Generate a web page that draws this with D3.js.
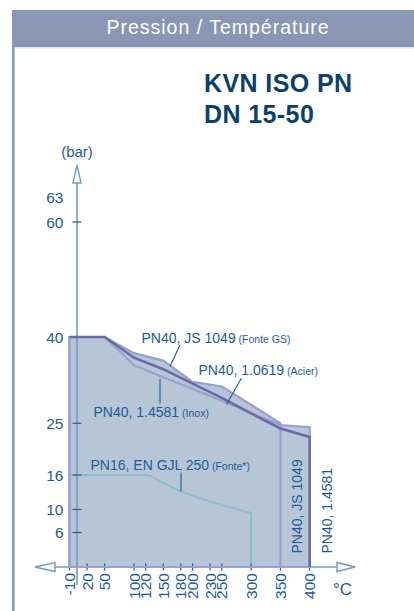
<!DOCTYPE html>
<html>
<head>
<meta charset="utf-8">
<script src="https://cdn.jsdelivr.net/npm/d3@7"></script>
<style>
  html, body { margin: 0; padding: 0; background: #fff; }
  svg { display: block; font-family: "Liberation Sans", Arial, sans-serif; }
</style>
</head>
<body>
<div id="chart"></div>
<script>
// Temperature ticks (°C) and pressure ticks (bar)
const tempTicks = [-10, 20, 50, 100, 120, 150, 180, 200, 230, 250, 300, 350, 400];
const barTicks = [6, 10, 16, 25, 40, 60];
const barLabels = [6, 10, 16, 25, 40, 60, 63];

// PN40, JS 1049 (Fonte GS)
const js1049Temp = [-10, 50, 100, 150, 200, 250, 350];
const js1049Bar = [40, 40, 37.2, 35.9, 32.2, 31.4, 25.0];

// PN40, 1.4581 (Inox)
const inoxTemp = [-10, 50, 100, 150, 200, 250, 300, 350, 400];
const inoxBar = [40, 40, 35.1, 33.0, 31.0, 28.9, 26.8, 24.7, 24.3];

// PN40, 1.0619 (Acier)
const acierTemp = [-10, 50, 100, 150, 200, 250, 300, 350, 400];
const acierBar = [40, 40, 36.4, 34.4, 31.9, 29.4, 26.7, 24.1, 22.6];

// PN16, EN GJL 250 (Fonte*)
const pn16Temp = [-10, 120, 150, 180, 300];
const pn16Bar = [16, 16, 14.6, 13.2, 9.4];

const width = 414, height = 611;
const fillColor = "#b6c6d7";
const lightLine = "#9c9ecd";
const darkLine = "#6a6aaa";
const pn16Line = "#8fbbd0";
const axisColor = "#6f9bc9";
const textBlue = "#1d5c99";

const svg = d3.select("#chart").append("svg")
    .attr("width", width)
    .attr("height", height);

// Header band
svg.append("rect").attr("x", 12).attr("y", 10).attr("width", width - 12).attr("height", 37).attr("fill", "#8b96b4");
svg.append("line").attr("x1", 12).attr("x2", width).attr("y1", 47.8).attr("y2", 47.8)
    .attr("stroke", "#dfe2ef").attr("stroke-width", 1.5);
svg.append("rect").attr("x", 12).attr("y", 47).attr("width", 2.6).attr("height", height - 47).attr("fill", "#8e95bd");
svg.append("text")
    .attr("x", 218).attr("y", 33.5)
    .attr("text-anchor", "middle")
    .attr("fill", "#fff")
    .attr("font-size", 19.5)
    .attr("letter-spacing", 1)
    .text("Pression / Température");

// Title
const title = svg.append("text")
    .attr("fill", "#0a3f6e")
    .attr("font-size", 25)
    .attr("font-weight", "bold")
    .attr("letter-spacing", 0.4);
title.append("tspan").attr("x", 204).attr("y", 91.7).text("KVN ISO PN");
title.append("tspan").attr("x", 204).attr("y", 123.3).text("DN 15-50");

// Scales
const x = d3.scaleLinear().domain([-10, 400]).range([69.5, 309.7]);
const y = d3.scaleLinear().domain([0, 60]).range([567, 222]);

function zipPoints(temps, bars) {
    return temps.map((t, i) => [t, bars[i]]);
}

const js1049 = zipPoints(js1049Temp, js1049Bar);
const inox = zipPoints(inoxTemp, inoxBar);
const acier = zipPoints(acierTemp, acierBar);
const pn16 = zipPoints(pn16Temp, pn16Bar);

// Filled areas (same colour, so overlaps form the union)
const area = d3.area()
    .x(d => x(d[0]))
    .y0(y(0))
    .y1(d => y(d[1]));

[js1049, inox, acier].forEach(s => {
    svg.append("path").attr("d", area(s)).attr("fill", fillColor);
});

// PN16 curve, down to the axis at its last temperature
const smoothLine = d3.line().x(d => x(d[0])).y(d => y(d[1])).curve(d3.curveMonotoneX);
const straightLine = d3.line().x(d => x(d[0])).y(d => y(d[1]));

svg.append("path")
    .attr("d", smoothLine(pn16) + "L" + x(pn16Temp[pn16Temp.length - 1]) + "," + y(0))
    .attr("fill", "none")
    .attr("stroke", pn16Line)
    .attr("stroke-width", 2.2);

// X axis line with open arrows on both ends
const axisY = y(0);
svg.append("line")
    .attr("x1", 35).attr("x2", 355)
    .attr("y1", axisY).attr("y2", axisY)
    .attr("stroke", axisColor).attr("stroke-width", 1.6);
svg.append("path")
    .attr("d", `M35,${axisY}L55,${axisY - 4.5}L55,${axisY + 4.5}Z`)
    .attr("fill", "#fff").attr("stroke", axisColor).attr("stroke-width", 1.4);
svg.append("path")
    .attr("d", `M355,${axisY}L337,${axisY - 4.5}L337,${axisY + 4.5}Z`)
    .attr("fill", "#fff").attr("stroke", axisColor).attr("stroke-width", 1.4);

// X ticks and rotated labels
svg.append("g").selectAll("line")
    .data(tempTicks)
    .enter().append("line")
    .attr("x1", d => x(d)).attr("x2", d => x(d))
    .attr("y1", axisY - 3.5).attr("y2", axisY + 3.5)
    .attr("stroke", textBlue).attr("stroke-width", 1.2);

svg.append("g").selectAll("text")
    .data(tempTicks)
    .enter().append("text")
    .attr("transform", d => `translate(${x(d) + 5.6},${axisY + 6}) rotate(-90)`)
    .attr("text-anchor", "end")
    .attr("fill", textBlue)
    .attr("font-size", 15.5)
    .text(d => d);

svg.append("text")
    .attr("x", 333).attr("y", 595)
    .attr("fill", textBlue)
    .attr("font-size", 17)
    .text("°C");

// Y axis line with open arrow at the top
const axisX = 77;
svg.append("line")
    .attr("x1", axisX).attr("x2", axisX)
    .attr("y1", 183).attr("y2", 585)
    .attr("stroke", axisColor).attr("stroke-width", 1.6);
svg.append("path")
    .attr("d", `M${axisX},165L${axisX - 4},183L${axisX + 4},183Z`)
    .attr("fill", "#fff").attr("stroke", axisColor).attr("stroke-width", 1.4);

svg.append("g").selectAll("line")
    .data(barTicks)
    .enter().append("line")
    .attr("x1", axisX - 4.5).attr("x2", axisX + 4.5)
    .attr("y1", d => y(d)).attr("y2", d => y(d))
    .attr("stroke", textBlue).attr("stroke-width", 1.2);

svg.append("g").selectAll("text")
    .data(barLabels)
    .enter().append("text")
    .attr("x", 63.5)
    .attr("y", d => y(d) + (d === 63 ? -7 : 0))
    .attr("dy", "0.36em")
    .attr("text-anchor", "end")
    .attr("fill", textBlue)
    .attr("font-size", 15.5)
    .text(d => d);

svg.append("text")
    .attr("x", axisX).attr("y", 156.5)
    .attr("text-anchor", "middle")
    .attr("fill", textBlue)
    .attr("font-size", 15)
    .text("(bar)");

// Series outlines: light ones closed along the base, dark one on top
svg.append("path")
    .attr("d", straightLine([[-10, 0]].concat(inox, [[400, 0]])) + "Z")
    .attr("fill", "none").attr("stroke", lightLine).attr("stroke-width", 2.2);
svg.append("path")
    .attr("d", straightLine([[-10, 0]].concat(js1049, [[350, 0]])) + "Z")
    .attr("fill", "none").attr("stroke", lightLine).attr("stroke-width", 2.2);
svg.append("path")
    .attr("d", straightLine(acier.concat([[400, 0]])))
    .attr("fill", "none").attr("stroke", darkLine).attr("stroke-width", 2.6);

// Leader lines for labels
const leaders = [
    [180, 345, 170, 366.5],
    [241.5, 378, 226.5, 404.5],
    [160, 379, 160, 403.5],
    [181, 472.5, 181, 491.5]
];
svg.append("g").selectAll("line")
    .data(leaders)
    .enter().append("line")
    .attr("x1", d => d[0]).attr("y1", d => d[1])
    .attr("x2", d => d[2]).attr("y2", d => d[3])
    .attr("stroke", textBlue).attr("stroke-width", 1.1);

// Series labels with a smaller material note
function addLabel(xPos, yPos, main, note) {
    const t = svg.append("text")
        .attr("x", xPos).attr("y", yPos)
        .attr("fill", textBlue)
        .attr("font-size", 14);
    t.append("tspan").text(main);
    t.append("tspan").attr("font-size", 10.5).text(" " + note);
}
addLabel(141.5, 342.5, "PN40, JS 1049", "(Fonte GS)");
addLabel(198.5, 375, "PN40, 1.0619", "(Acier)");
addLabel(93.5, 416.5, "PN40, 1.4581", "(Inox)");
addLabel(90.5, 470, "PN16, EN GJL 250", "(Fonte*)");

// Vertical labels along the end limits
svg.append("text")
    .attr("transform", "translate(301.5,553.5) rotate(-90)")
    .attr("fill", textBlue)
    .attr("font-size", 14)
    .text("PN40, JS 1049");
svg.append("text")
    .attr("transform", "translate(331.5,553.5) rotate(-90)")
    .attr("fill", textBlue)
    .attr("font-size", 14)
    .text("PN40, 1.4581");
</script>
</body>
</html>
